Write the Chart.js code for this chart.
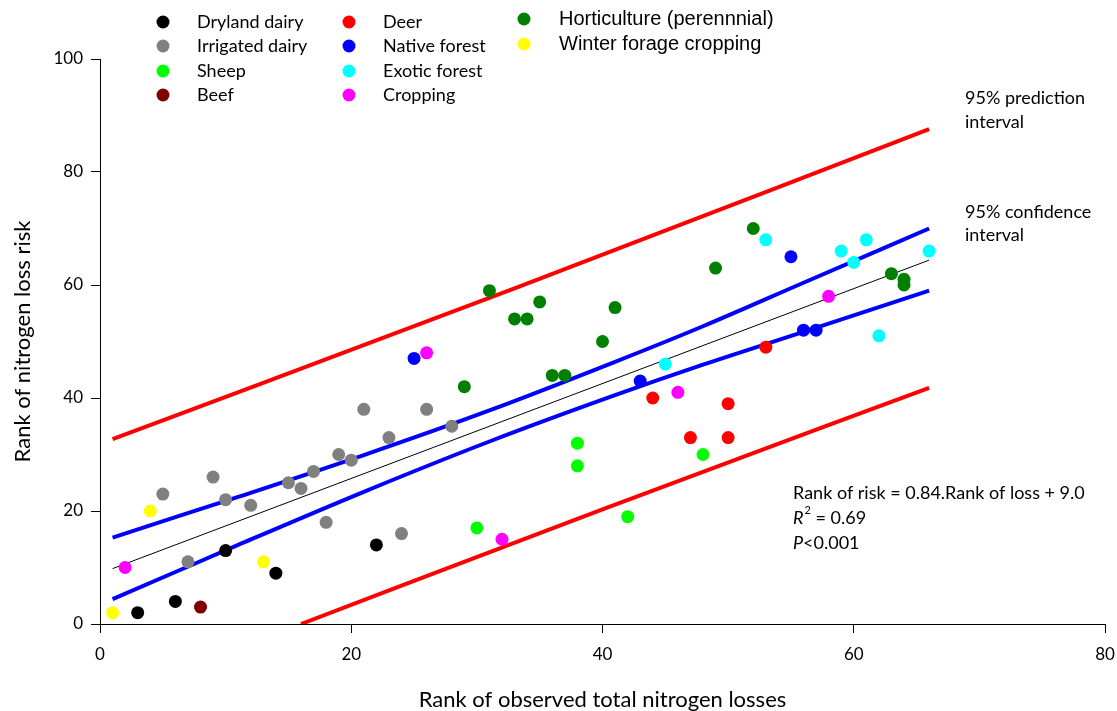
<!DOCTYPE html>
<html>
<head>
<meta charset="utf-8">
<script src="https://cdn.jsdelivr.net/npm/chart.js@4.4.1/dist/chart.umd.min.js"></script>
<style>
  html, body { margin: 0; padding: 0; background: #ffffff; }
  #wrap { width: 1117px; height: 711px; position: relative; }
</style>
</head>
<body>
<div id="wrap"><canvas id="c" width="1117" height="711"></canvas></div>
<script>
// ---- Data ----
const categories = ["Dryland dairy", "Irrigated dairy", "Sheep", "Beef", "Deer", "Native forest",
  "Exotic forest", "Cropping", "Horticulture (perennnial)", "Winter forage cropping"];
const categoryColors = ["#000000", "#808080", "#00ff00", "#800000", "#ff0000", "#0000ff",
  "#00ffff", "#ff00ff", "#008000", "#ffff00"];

const drylandDairy = [[3,2],[6,4],[10,13],[14,9],[22,14]];
const irrigatedDairy = [[5,23],[7,11],[9,26],[10,22],[12,21],[15,25],[16,24],[17,27],[18,18],[19,30],[20,29],[21,38],[23,33],[24,16],[26,38],[28,35]];
const sheep = [[30,17],[38,32],[38,28],[42,19],[48,30]];
const beef = [[8,3]];
const deer = [[44,40],[47,33],[50,39],[50,33],[53,49]];
const nativeForest = [[25,47],[43,43],[55,65],[56,52],[57,52]];
const exoticForest = [[45,46],[53,68],[59,66],[60,64],[61,68],[62,51],[66,66]];
const cropping = [[2,10],[26,48],[32,15],[46,41],[58,58]];
const horticulture = [[29,42],[31,59],[33,54],[34,54],[35,57],[36,44],[37,44],[40,50],[41,56],[49,63],[52,70],[63,62],[64,61],[64,60]];
const winterForage = [[1,2],[4,20],[13,11]];
const seriesValues = [drylandDairy, irrigatedDairy, sheep, beef, deer, nativeForest,
  exoticForest, cropping, horticulture, winterForage];

// Fitted line and intervals
const regressionLine = [[1,9.8],[66,64.4]];
const confUpper = [[1,15.3],[6,18.9],[11,22.5],[21,29.9],[31,37.8],[41,46.4],[48,52.7],[56,60.4],[66,70.0]];
const confLower = [[1,4.4],[6,9.2],[11,14.0],[21,23.4],[31,32.3],[41,40.5],[48,45.9],[56,51.7],[66,59.0]];
const predUpper = [[1,32.7],[33,59.4],[66,87.6]];
const predLower = [[16,0],[40,20.3],[66,41.8]];

const xTicks = [0, 20, 40, 60, 80];
const yTicks = [0, 20, 40, 60, 80, 100];

const toXY = arr => arr.map(p => ({x: p[0], y: p[1]}));

const datasets = [];
seriesValues.forEach((s, i) => {
  datasets.push({
    type: 'scatter', label: categories[i], data: toXY(s),
    backgroundColor: categoryColors[i], borderWidth: 0,
    pointRadius: 6.5, pointHoverRadius: 6.5, order: 0
  });
});
function lineDs(label, arr, color, width) {
  return { type: 'line', label: label, data: toXY(arr), borderColor: color, borderWidth: width,
    pointRadius: 0, fill: false, tension: 0.4, cubicInterpolationMode: 'monotone', order: 10 };
}
datasets.push(lineDs('pred upper', predUpper, '#ff0000', 4));
datasets.push(lineDs('pred lower', predLower, '#ff0000', 4));
datasets.push(lineDs('conf upper', confUpper, '#0000ff', 4));
datasets.push(lineDs('conf lower', confLower, '#0000ff', 4));
datasets.push(lineDs('regression', regressionLine, '#000000', 1));

const textPlugin = {
  id: 'texts',
  afterDraw(chart) {
    const ctx = chart.ctx;
    ctx.save();
    ctx.textBaseline = 'middle';
    ctx.textAlign = 'left';
    // legend
    const cols = [
      {dot: 163, text: 197, rows: [22, 46, 71, 95], font: '18px Lato', idx: [0,1,2,3]},
      {dot: 349, text: 383, rows: [22, 46, 71, 95], font: '18px Lato', idx: [4,5,6,7]},
      {dot: 524, text: 559, rows: [19, 44], font: '20px "Liberation Sans"', idx: [8,9]}
    ];
    cols.forEach(c => {
      c.idx.forEach((k, j) => {
        const y = c.rows[j];
        ctx.beginPath();
        ctx.fillStyle = categoryColors[k];
        ctx.arc(c.dot, y, 6.5, 0, Math.PI * 2);
        ctx.fill();
        ctx.fillStyle = '#000';
        ctx.font = c.font;
        ctx.fillText(categories[k], c.text, y);
      });
    });
    // interval labels
    ctx.font = '18px Lato';
    ctx.fillStyle = '#000';
    ctx.fillText('95% prediction', 965, 98);
    ctx.fillText('interval', 965, 122);
    ctx.fillText('95% confidence', 965, 212);
    ctx.fillText('interval', 965, 235);
    // equation
    ctx.fillText('Rank of risk = 0.84.Rank of loss + 9.0', 793, 493);
    ctx.font = 'italic 18px Lato';
    ctx.fillText('R', 793, 518);
    let w = ctx.measureText('R').width;
    ctx.font = '11px Lato';
    ctx.fillText('2', 793 + w + 1, 510);
    let w2 = ctx.measureText('2').width;
    ctx.font = '18px Lato';
    ctx.fillText(' = 0.69', 793 + w + w2 + 1, 518);
    ctx.font = 'italic 18px Lato';
    ctx.fillText('P', 793, 543);
    w = ctx.measureText('P').width;
    ctx.font = '18px Lato';
    ctx.fillText('<0.001', 793 + w, 543);
    ctx.restore();
  }
};

new Chart(document.getElementById('c'), {
  type: 'scatter',
  data: { datasets: datasets },
  options: {
    responsive: false,
    animation: false,
    layout: { padding: { top: 59, right: 12, left: 0, bottom: 0 }, autoPadding: false },
    plugins: { legend: { display: false }, tooltip: { enabled: false } },
    scales: {
      x: {
        type: 'linear', min: 0, max: 80,
        afterBuildTicks: s => { s.ticks = xTicks.map(v => ({value: v})); },
        afterFit: s => { s.height = 87; s.paddingLeft = 0; s.paddingRight = 0; },
        grid: { drawOnChartArea: false, drawTicks: true, tickLength: 9, color: '#000' },
        border: { color: '#000', width: 1 },
        ticks: { color: '#000', font: { family: 'Lato', size: 17 }, padding: 11, maxRotation: 0 },
        title: { display: true, text: 'Rank of observed total nitrogen losses', color: '#000',
          font: { family: 'Lato', size: 22 }, padding: { top: 0, bottom: -2 } }
      },
      y: {
        type: 'linear', min: 0, max: 100,
        afterBuildTicks: s => { s.ticks = yTicks.map(v => ({value: v})); },
        afterFit: s => { s.width = 100; s.paddingTop = 0; s.paddingBottom = 0; },
        grid: { drawOnChartArea: false, drawTicks: true, tickLength: 9, color: '#000' },
        border: { color: '#000', width: 1 },
        ticks: { color: '#000', font: { family: 'Lato', size: 17 }, padding: 8 },
        title: { display: true, text: 'Rank of nitrogen loss risk', color: '#000',
          font: { family: 'Lato', size: 22 }, padding: { top: 10, bottom: 0 } }
      }
    }
  },
  plugins: [textPlugin]
});
</script>
</body>
</html>
